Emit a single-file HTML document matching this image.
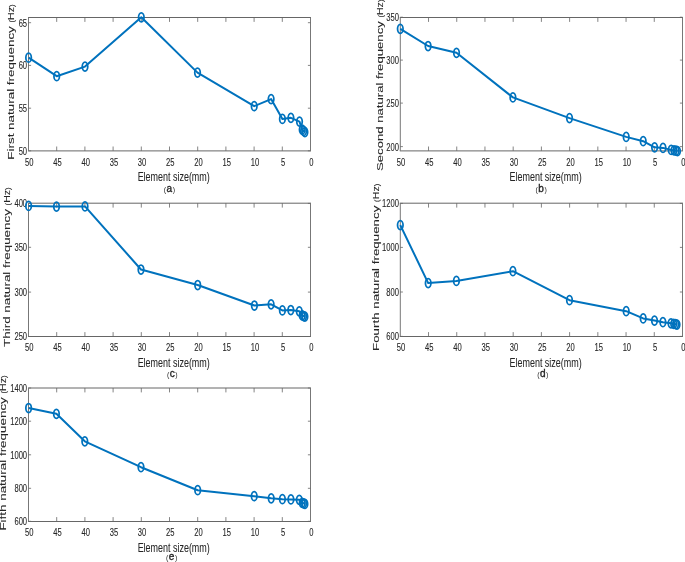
<!DOCTYPE html>
<html><head><meta charset="utf-8"><style>
html,body{margin:0;padding:0;background:#fff;}
body{width:685px;height:562px;overflow:hidden;}
svg{display:block;will-change:transform;}
text{font-family:"Liberation Sans",sans-serif;fill:#262626;}
.t{font-size:10.8px;stroke:#262626;stroke-width:0.1px;}
.xl{font-size:12.2px;stroke:#262626;stroke-width:0.06px;}
.yl{font-size:13.4px;stroke:#262626;stroke-width:0.1px;}
.cap{font-size:9px;letter-spacing:0.5px;}
.capl{stroke:#262626;stroke-width:0.35px;}
</style></head><body>
<svg width="685" height="562" viewBox="0 0 685 562">
<rect width="685" height="562" fill="#fff"/>
<line x1="28.0" y1="17.5" x2="311.0" y2="17.5" stroke="#666666" stroke-width="1"/>
<line x1="28.0" y1="150.9" x2="311.0" y2="150.9" stroke="#666666" stroke-width="1"/>
<line x1="28.5" y1="17.5" x2="28.5" y2="150.9" stroke="#777777" stroke-width="1"/>
<line x1="310.5" y1="17.5" x2="310.5" y2="150.9" stroke="#777777" stroke-width="1"/>
<text transform="translate(29.30,165.90) scale(0.705,1)" text-anchor="middle" class="t">50</text>
<line x1="56.70" y1="150.9" x2="56.70" y2="146.5" stroke="#666666" stroke-width="0.8"/>
<line x1="56.70" y1="17.5" x2="56.70" y2="21.9" stroke="#666666" stroke-width="0.8"/>
<text transform="translate(57.50,165.90) scale(0.705,1)" text-anchor="middle" class="t">45</text>
<line x1="84.90" y1="150.9" x2="84.90" y2="146.5" stroke="#666666" stroke-width="0.8"/>
<line x1="84.90" y1="17.5" x2="84.90" y2="21.9" stroke="#666666" stroke-width="0.8"/>
<text transform="translate(85.70,165.90) scale(0.705,1)" text-anchor="middle" class="t">40</text>
<line x1="113.10" y1="150.9" x2="113.10" y2="146.5" stroke="#666666" stroke-width="0.8"/>
<line x1="113.10" y1="17.5" x2="113.10" y2="21.9" stroke="#666666" stroke-width="0.8"/>
<text transform="translate(113.90,165.90) scale(0.705,1)" text-anchor="middle" class="t">35</text>
<line x1="141.30" y1="150.9" x2="141.30" y2="146.5" stroke="#666666" stroke-width="0.8"/>
<line x1="141.30" y1="17.5" x2="141.30" y2="21.9" stroke="#666666" stroke-width="0.8"/>
<text transform="translate(142.10,165.90) scale(0.705,1)" text-anchor="middle" class="t">30</text>
<line x1="169.50" y1="150.9" x2="169.50" y2="146.5" stroke="#666666" stroke-width="0.8"/>
<line x1="169.50" y1="17.5" x2="169.50" y2="21.9" stroke="#666666" stroke-width="0.8"/>
<text transform="translate(170.30,165.90) scale(0.705,1)" text-anchor="middle" class="t">25</text>
<line x1="197.70" y1="150.9" x2="197.70" y2="146.5" stroke="#666666" stroke-width="0.8"/>
<line x1="197.70" y1="17.5" x2="197.70" y2="21.9" stroke="#666666" stroke-width="0.8"/>
<text transform="translate(198.50,165.90) scale(0.705,1)" text-anchor="middle" class="t">20</text>
<line x1="225.90" y1="150.9" x2="225.90" y2="146.5" stroke="#666666" stroke-width="0.8"/>
<line x1="225.90" y1="17.5" x2="225.90" y2="21.9" stroke="#666666" stroke-width="0.8"/>
<text transform="translate(226.70,165.90) scale(0.705,1)" text-anchor="middle" class="t">15</text>
<line x1="254.10" y1="150.9" x2="254.10" y2="146.5" stroke="#666666" stroke-width="0.8"/>
<line x1="254.10" y1="17.5" x2="254.10" y2="21.9" stroke="#666666" stroke-width="0.8"/>
<text transform="translate(254.90,165.90) scale(0.705,1)" text-anchor="middle" class="t">10</text>
<line x1="282.30" y1="150.9" x2="282.30" y2="146.5" stroke="#666666" stroke-width="0.8"/>
<line x1="282.30" y1="17.5" x2="282.30" y2="21.9" stroke="#666666" stroke-width="0.8"/>
<text transform="translate(283.10,165.90) scale(0.705,1)" text-anchor="middle" class="t">5</text>
<text transform="translate(311.30,165.90) scale(0.705,1)" text-anchor="middle" class="t">0</text>
<line x1="28.5" y1="150.8" x2="31.1" y2="150.8" stroke="#666666" stroke-width="0.8"/>
<line x1="310.5" y1="150.8" x2="307.9" y2="150.8" stroke="#666666" stroke-width="0.8"/>
<text transform="translate(27.10,154.70) scale(0.705,1)" text-anchor="end" class="t">50</text>
<line x1="28.5" y1="108.2" x2="31.1" y2="108.2" stroke="#666666" stroke-width="0.8"/>
<line x1="310.5" y1="108.2" x2="307.9" y2="108.2" stroke="#666666" stroke-width="0.8"/>
<text transform="translate(27.10,112.10) scale(0.705,1)" text-anchor="end" class="t">55</text>
<line x1="28.5" y1="65.4" x2="31.1" y2="65.4" stroke="#666666" stroke-width="0.8"/>
<line x1="310.5" y1="65.4" x2="307.9" y2="65.4" stroke="#666666" stroke-width="0.8"/>
<text transform="translate(27.10,69.30) scale(0.705,1)" text-anchor="end" class="t">60</text>
<line x1="28.5" y1="22.7" x2="31.1" y2="22.7" stroke="#666666" stroke-width="0.8"/>
<line x1="310.5" y1="22.7" x2="307.9" y2="22.7" stroke="#666666" stroke-width="0.8"/>
<text transform="translate(27.10,26.60) scale(0.705,1)" text-anchor="end" class="t">65</text>
<polyline points="28.6,57.7 56.7,76.2 85,66.6 141.3,17.3 197.5,72.6 254.2,106.2 271.1,99.1 282.4,118.9 290.9,117.8 299.5,121.6 302.2,129.6 303.6,130.9 304.9,132.1" fill="none" stroke="#0072BD" stroke-width="2.0" stroke-linejoin="round"/>
<ellipse cx="28.6" cy="57.7" rx="2.75" ry="4.5" fill="none" stroke="#0072BD" stroke-width="1.75"/>
<ellipse cx="56.7" cy="76.2" rx="2.75" ry="4.5" fill="none" stroke="#0072BD" stroke-width="1.75"/>
<ellipse cx="85" cy="66.6" rx="2.75" ry="4.5" fill="none" stroke="#0072BD" stroke-width="1.75"/>
<ellipse cx="141.3" cy="17.3" rx="2.75" ry="4.5" fill="none" stroke="#0072BD" stroke-width="1.75"/>
<ellipse cx="197.5" cy="72.6" rx="2.75" ry="4.5" fill="none" stroke="#0072BD" stroke-width="1.75"/>
<ellipse cx="254.2" cy="106.2" rx="2.75" ry="4.5" fill="none" stroke="#0072BD" stroke-width="1.75"/>
<ellipse cx="271.1" cy="99.1" rx="2.75" ry="4.5" fill="none" stroke="#0072BD" stroke-width="1.75"/>
<ellipse cx="282.4" cy="118.9" rx="2.75" ry="4.5" fill="none" stroke="#0072BD" stroke-width="1.75"/>
<ellipse cx="290.9" cy="117.8" rx="2.75" ry="4.5" fill="none" stroke="#0072BD" stroke-width="1.75"/>
<ellipse cx="299.5" cy="121.6" rx="2.75" ry="4.5" fill="none" stroke="#0072BD" stroke-width="1.75"/>
<ellipse cx="302.2" cy="129.6" rx="2.75" ry="4.5" fill="none" stroke="#0072BD" stroke-width="1.75"/>
<ellipse cx="303.6" cy="130.9" rx="2.75" ry="4.5" fill="none" stroke="#0072BD" stroke-width="1.75"/>
<ellipse cx="304.9" cy="132.1" rx="2.75" ry="4.5" fill="none" stroke="#0072BD" stroke-width="1.75"/>
<text transform="translate(173.70,180.90) scale(0.735,1)" text-anchor="middle" class="xl">Element size(mm)</text>
<text transform="translate(169.60,191.80)" text-anchor="middle" class="cap"><tspan font-size="7">(</tspan><tspan font-size="10" class="capl">a</tspan><tspan font-size="7">)</tspan></text>
<text transform="translate(14.0,159.70) scale(0.725,1) rotate(-90)" textLength="133.50" lengthAdjust="spacingAndGlyphs" text-anchor="start" class="yl">First natural frequency</text>
<text transform="translate(14.0,22.55) scale(0.725,1) rotate(-90)" textLength="18.15" lengthAdjust="spacingAndGlyphs" text-anchor="start" class="yl"><tspan font-size="10">(</tspan>Hz<tspan font-size="10">)</tspan></text>
<line x1="399.8" y1="17.5" x2="683.0" y2="17.5" stroke="#666666" stroke-width="1"/>
<line x1="399.8" y1="150.9" x2="683.0" y2="150.9" stroke="#666666" stroke-width="1"/>
<line x1="400.3" y1="17.5" x2="400.3" y2="150.9" stroke="#777777" stroke-width="1"/>
<line x1="682.5" y1="17.5" x2="682.5" y2="150.9" stroke="#777777" stroke-width="1"/>
<text transform="translate(401.10,165.90) scale(0.705,1)" text-anchor="middle" class="t">50</text>
<line x1="428.52" y1="150.9" x2="428.52" y2="146.5" stroke="#666666" stroke-width="0.8"/>
<line x1="428.52" y1="17.5" x2="428.52" y2="21.9" stroke="#666666" stroke-width="0.8"/>
<text transform="translate(429.32,165.90) scale(0.705,1)" text-anchor="middle" class="t">45</text>
<line x1="456.74" y1="150.9" x2="456.74" y2="146.5" stroke="#666666" stroke-width="0.8"/>
<line x1="456.74" y1="17.5" x2="456.74" y2="21.9" stroke="#666666" stroke-width="0.8"/>
<text transform="translate(457.54,165.90) scale(0.705,1)" text-anchor="middle" class="t">40</text>
<line x1="484.96" y1="150.9" x2="484.96" y2="146.5" stroke="#666666" stroke-width="0.8"/>
<line x1="484.96" y1="17.5" x2="484.96" y2="21.9" stroke="#666666" stroke-width="0.8"/>
<text transform="translate(485.76,165.90) scale(0.705,1)" text-anchor="middle" class="t">35</text>
<line x1="513.18" y1="150.9" x2="513.18" y2="146.5" stroke="#666666" stroke-width="0.8"/>
<line x1="513.18" y1="17.5" x2="513.18" y2="21.9" stroke="#666666" stroke-width="0.8"/>
<text transform="translate(513.98,165.90) scale(0.705,1)" text-anchor="middle" class="t">30</text>
<line x1="541.40" y1="150.9" x2="541.40" y2="146.5" stroke="#666666" stroke-width="0.8"/>
<line x1="541.40" y1="17.5" x2="541.40" y2="21.9" stroke="#666666" stroke-width="0.8"/>
<text transform="translate(542.20,165.90) scale(0.705,1)" text-anchor="middle" class="t">25</text>
<line x1="569.62" y1="150.9" x2="569.62" y2="146.5" stroke="#666666" stroke-width="0.8"/>
<line x1="569.62" y1="17.5" x2="569.62" y2="21.9" stroke="#666666" stroke-width="0.8"/>
<text transform="translate(570.42,165.90) scale(0.705,1)" text-anchor="middle" class="t">20</text>
<line x1="597.84" y1="150.9" x2="597.84" y2="146.5" stroke="#666666" stroke-width="0.8"/>
<line x1="597.84" y1="17.5" x2="597.84" y2="21.9" stroke="#666666" stroke-width="0.8"/>
<text transform="translate(598.64,165.90) scale(0.705,1)" text-anchor="middle" class="t">15</text>
<line x1="626.06" y1="150.9" x2="626.06" y2="146.5" stroke="#666666" stroke-width="0.8"/>
<line x1="626.06" y1="17.5" x2="626.06" y2="21.9" stroke="#666666" stroke-width="0.8"/>
<text transform="translate(626.86,165.90) scale(0.705,1)" text-anchor="middle" class="t">10</text>
<line x1="654.28" y1="150.9" x2="654.28" y2="146.5" stroke="#666666" stroke-width="0.8"/>
<line x1="654.28" y1="17.5" x2="654.28" y2="21.9" stroke="#666666" stroke-width="0.8"/>
<text transform="translate(655.08,165.90) scale(0.705,1)" text-anchor="middle" class="t">5</text>
<text transform="translate(683.30,165.90) scale(0.705,1)" text-anchor="middle" class="t">0</text>
<line x1="400.3" y1="146.6" x2="402.90000000000003" y2="146.6" stroke="#666666" stroke-width="0.8"/>
<line x1="682.5" y1="146.6" x2="679.9" y2="146.6" stroke="#666666" stroke-width="0.8"/>
<text transform="translate(398.90,150.50) scale(0.705,1)" text-anchor="end" class="t">200</text>
<line x1="400.3" y1="103.1" x2="402.90000000000003" y2="103.1" stroke="#666666" stroke-width="0.8"/>
<line x1="682.5" y1="103.1" x2="679.9" y2="103.1" stroke="#666666" stroke-width="0.8"/>
<text transform="translate(398.90,107.00) scale(0.705,1)" text-anchor="end" class="t">250</text>
<line x1="400.3" y1="60.1" x2="402.90000000000003" y2="60.1" stroke="#666666" stroke-width="0.8"/>
<line x1="682.5" y1="60.1" x2="679.9" y2="60.1" stroke="#666666" stroke-width="0.8"/>
<text transform="translate(398.90,64.00) scale(0.705,1)" text-anchor="end" class="t">300</text>
<line x1="400.3" y1="17.2" x2="402.90000000000003" y2="17.2" stroke="#666666" stroke-width="0.8"/>
<line x1="682.5" y1="17.2" x2="679.9" y2="17.2" stroke="#666666" stroke-width="0.8"/>
<text transform="translate(398.90,21.10) scale(0.705,1)" text-anchor="end" class="t">350</text>
<polyline points="400.3,28.8 428.1,46 456.5,52.8 512.9,97.4 569.5,118.1 626.2,136.9 643.2,141.2 654.6,147.3 663,147.9 671.2,149.9 674.0,150.3 676.0,150.7 677.5,151.1" fill="none" stroke="#0072BD" stroke-width="2.0" stroke-linejoin="round"/>
<ellipse cx="400.3" cy="28.8" rx="2.75" ry="4.5" fill="none" stroke="#0072BD" stroke-width="1.75"/>
<ellipse cx="428.1" cy="46" rx="2.75" ry="4.5" fill="none" stroke="#0072BD" stroke-width="1.75"/>
<ellipse cx="456.5" cy="52.8" rx="2.75" ry="4.5" fill="none" stroke="#0072BD" stroke-width="1.75"/>
<ellipse cx="512.9" cy="97.4" rx="2.75" ry="4.5" fill="none" stroke="#0072BD" stroke-width="1.75"/>
<ellipse cx="569.5" cy="118.1" rx="2.75" ry="4.5" fill="none" stroke="#0072BD" stroke-width="1.75"/>
<ellipse cx="626.2" cy="136.9" rx="2.75" ry="4.5" fill="none" stroke="#0072BD" stroke-width="1.75"/>
<ellipse cx="643.2" cy="141.2" rx="2.75" ry="4.5" fill="none" stroke="#0072BD" stroke-width="1.75"/>
<ellipse cx="654.6" cy="147.3" rx="2.75" ry="4.5" fill="none" stroke="#0072BD" stroke-width="1.75"/>
<ellipse cx="663" cy="147.9" rx="2.75" ry="4.5" fill="none" stroke="#0072BD" stroke-width="1.75"/>
<ellipse cx="671.2" cy="149.9" rx="2.75" ry="4.5" fill="none" stroke="#0072BD" stroke-width="1.75"/>
<ellipse cx="674.0" cy="150.3" rx="2.75" ry="4.5" fill="none" stroke="#0072BD" stroke-width="1.75"/>
<ellipse cx="676.0" cy="150.7" rx="2.75" ry="4.5" fill="none" stroke="#0072BD" stroke-width="1.75"/>
<ellipse cx="677.5" cy="151.1" rx="2.75" ry="4.5" fill="none" stroke="#0072BD" stroke-width="1.75"/>
<text transform="translate(545.60,180.90) scale(0.735,1)" text-anchor="middle" class="xl">Element size(mm)</text>
<text transform="translate(541.40,192.30)" text-anchor="middle" class="cap"><tspan font-size="7">(</tspan><tspan font-size="10" class="capl">b</tspan><tspan font-size="7">)</tspan></text>
<text transform="translate(383.2,171.00) scale(0.725,1) rotate(-90)" textLength="149.80" lengthAdjust="spacingAndGlyphs" text-anchor="start" class="yl">Second natural frequency</text>
<text transform="translate(383.2,17.55) scale(0.725,1) rotate(-90)" textLength="18.05" lengthAdjust="spacingAndGlyphs" text-anchor="start" class="yl"><tspan font-size="10">(</tspan>Hz<tspan font-size="10">)</tspan></text>
<line x1="28.0" y1="203.2" x2="311.0" y2="203.2" stroke="#666666" stroke-width="1"/>
<line x1="28.0" y1="336.5" x2="311.0" y2="336.5" stroke="#666666" stroke-width="1"/>
<line x1="28.5" y1="203.2" x2="28.5" y2="336.5" stroke="#777777" stroke-width="1"/>
<line x1="310.5" y1="203.2" x2="310.5" y2="336.5" stroke="#777777" stroke-width="1"/>
<text transform="translate(29.30,351.10) scale(0.705,1)" text-anchor="middle" class="t">50</text>
<line x1="56.70" y1="336.5" x2="56.70" y2="332.1" stroke="#666666" stroke-width="0.8"/>
<line x1="56.70" y1="203.2" x2="56.70" y2="207.6" stroke="#666666" stroke-width="0.8"/>
<text transform="translate(57.50,351.10) scale(0.705,1)" text-anchor="middle" class="t">45</text>
<line x1="84.90" y1="336.5" x2="84.90" y2="332.1" stroke="#666666" stroke-width="0.8"/>
<line x1="84.90" y1="203.2" x2="84.90" y2="207.6" stroke="#666666" stroke-width="0.8"/>
<text transform="translate(85.70,351.10) scale(0.705,1)" text-anchor="middle" class="t">40</text>
<line x1="113.10" y1="336.5" x2="113.10" y2="332.1" stroke="#666666" stroke-width="0.8"/>
<line x1="113.10" y1="203.2" x2="113.10" y2="207.6" stroke="#666666" stroke-width="0.8"/>
<text transform="translate(113.90,351.10) scale(0.705,1)" text-anchor="middle" class="t">35</text>
<line x1="141.30" y1="336.5" x2="141.30" y2="332.1" stroke="#666666" stroke-width="0.8"/>
<line x1="141.30" y1="203.2" x2="141.30" y2="207.6" stroke="#666666" stroke-width="0.8"/>
<text transform="translate(142.10,351.10) scale(0.705,1)" text-anchor="middle" class="t">30</text>
<line x1="169.50" y1="336.5" x2="169.50" y2="332.1" stroke="#666666" stroke-width="0.8"/>
<line x1="169.50" y1="203.2" x2="169.50" y2="207.6" stroke="#666666" stroke-width="0.8"/>
<text transform="translate(170.30,351.10) scale(0.705,1)" text-anchor="middle" class="t">25</text>
<line x1="197.70" y1="336.5" x2="197.70" y2="332.1" stroke="#666666" stroke-width="0.8"/>
<line x1="197.70" y1="203.2" x2="197.70" y2="207.6" stroke="#666666" stroke-width="0.8"/>
<text transform="translate(198.50,351.10) scale(0.705,1)" text-anchor="middle" class="t">20</text>
<line x1="225.90" y1="336.5" x2="225.90" y2="332.1" stroke="#666666" stroke-width="0.8"/>
<line x1="225.90" y1="203.2" x2="225.90" y2="207.6" stroke="#666666" stroke-width="0.8"/>
<text transform="translate(226.70,351.10) scale(0.705,1)" text-anchor="middle" class="t">15</text>
<line x1="254.10" y1="336.5" x2="254.10" y2="332.1" stroke="#666666" stroke-width="0.8"/>
<line x1="254.10" y1="203.2" x2="254.10" y2="207.6" stroke="#666666" stroke-width="0.8"/>
<text transform="translate(254.90,351.10) scale(0.705,1)" text-anchor="middle" class="t">10</text>
<line x1="282.30" y1="336.5" x2="282.30" y2="332.1" stroke="#666666" stroke-width="0.8"/>
<line x1="282.30" y1="203.2" x2="282.30" y2="207.6" stroke="#666666" stroke-width="0.8"/>
<text transform="translate(283.10,351.10) scale(0.705,1)" text-anchor="middle" class="t">5</text>
<text transform="translate(311.30,351.10) scale(0.705,1)" text-anchor="middle" class="t">0</text>
<line x1="28.5" y1="336.5" x2="31.1" y2="336.5" stroke="#666666" stroke-width="0.8"/>
<line x1="310.5" y1="336.5" x2="307.9" y2="336.5" stroke="#666666" stroke-width="0.8"/>
<text transform="translate(27.10,340.40) scale(0.705,1)" text-anchor="end" class="t">250</text>
<line x1="28.5" y1="292.1" x2="31.1" y2="292.1" stroke="#666666" stroke-width="0.8"/>
<line x1="310.5" y1="292.1" x2="307.9" y2="292.1" stroke="#666666" stroke-width="0.8"/>
<text transform="translate(27.10,296.00) scale(0.705,1)" text-anchor="end" class="t">300</text>
<line x1="28.5" y1="247.3" x2="31.1" y2="247.3" stroke="#666666" stroke-width="0.8"/>
<line x1="310.5" y1="247.3" x2="307.9" y2="247.3" stroke="#666666" stroke-width="0.8"/>
<text transform="translate(27.10,251.20) scale(0.705,1)" text-anchor="end" class="t">350</text>
<line x1="28.5" y1="203.4" x2="31.1" y2="203.4" stroke="#666666" stroke-width="0.8"/>
<line x1="310.5" y1="203.4" x2="307.9" y2="203.4" stroke="#666666" stroke-width="0.8"/>
<text transform="translate(27.10,207.30) scale(0.705,1)" text-anchor="end" class="t">400</text>
<polyline points="28.6,205.9 56.5,206.6 85,206.4 141,269.5 197.7,285 254.4,305.5 271.1,304.3 282.4,310.4 290.8,310 299.3,311.3 302.2,315.4 303.6,316.0 304.9,316.6" fill="none" stroke="#0072BD" stroke-width="2.0" stroke-linejoin="round"/>
<ellipse cx="28.6" cy="205.9" rx="2.75" ry="4.5" fill="none" stroke="#0072BD" stroke-width="1.75"/>
<ellipse cx="56.5" cy="206.6" rx="2.75" ry="4.5" fill="none" stroke="#0072BD" stroke-width="1.75"/>
<ellipse cx="85" cy="206.4" rx="2.75" ry="4.5" fill="none" stroke="#0072BD" stroke-width="1.75"/>
<ellipse cx="141" cy="269.5" rx="2.75" ry="4.5" fill="none" stroke="#0072BD" stroke-width="1.75"/>
<ellipse cx="197.7" cy="285" rx="2.75" ry="4.5" fill="none" stroke="#0072BD" stroke-width="1.75"/>
<ellipse cx="254.4" cy="305.5" rx="2.75" ry="4.5" fill="none" stroke="#0072BD" stroke-width="1.75"/>
<ellipse cx="271.1" cy="304.3" rx="2.75" ry="4.5" fill="none" stroke="#0072BD" stroke-width="1.75"/>
<ellipse cx="282.4" cy="310.4" rx="2.75" ry="4.5" fill="none" stroke="#0072BD" stroke-width="1.75"/>
<ellipse cx="290.8" cy="310" rx="2.75" ry="4.5" fill="none" stroke="#0072BD" stroke-width="1.75"/>
<ellipse cx="299.3" cy="311.3" rx="2.75" ry="4.5" fill="none" stroke="#0072BD" stroke-width="1.75"/>
<ellipse cx="302.2" cy="315.4" rx="2.75" ry="4.5" fill="none" stroke="#0072BD" stroke-width="1.75"/>
<ellipse cx="303.6" cy="316.0" rx="2.75" ry="4.5" fill="none" stroke="#0072BD" stroke-width="1.75"/>
<ellipse cx="304.9" cy="316.6" rx="2.75" ry="4.5" fill="none" stroke="#0072BD" stroke-width="1.75"/>
<text transform="translate(173.70,366.50) scale(0.735,1)" text-anchor="middle" class="xl">Element size(mm)</text>
<text transform="translate(172.50,376.50)" text-anchor="middle" class="cap"><tspan font-size="7">(</tspan><tspan font-size="10" class="capl">c</tspan><tspan font-size="7">)</tspan></text>
<text transform="translate(9.8,346.90) scale(0.725,1) rotate(-90)" textLength="137.80" lengthAdjust="spacingAndGlyphs" text-anchor="start" class="yl">Third natural frequency</text>
<text transform="translate(9.8,205.45) scale(0.725,1) rotate(-90)" textLength="18.05" lengthAdjust="spacingAndGlyphs" text-anchor="start" class="yl"><tspan font-size="10">(</tspan>Hz<tspan font-size="10">)</tspan></text>
<line x1="399.8" y1="203.2" x2="683.0" y2="203.2" stroke="#666666" stroke-width="1"/>
<line x1="399.8" y1="336.5" x2="683.0" y2="336.5" stroke="#666666" stroke-width="1"/>
<line x1="400.3" y1="203.2" x2="400.3" y2="336.5" stroke="#777777" stroke-width="1"/>
<line x1="682.5" y1="203.2" x2="682.5" y2="336.5" stroke="#777777" stroke-width="1"/>
<text transform="translate(401.10,351.10) scale(0.705,1)" text-anchor="middle" class="t">50</text>
<line x1="428.52" y1="336.5" x2="428.52" y2="332.1" stroke="#666666" stroke-width="0.8"/>
<line x1="428.52" y1="203.2" x2="428.52" y2="207.6" stroke="#666666" stroke-width="0.8"/>
<text transform="translate(429.32,351.10) scale(0.705,1)" text-anchor="middle" class="t">45</text>
<line x1="456.74" y1="336.5" x2="456.74" y2="332.1" stroke="#666666" stroke-width="0.8"/>
<line x1="456.74" y1="203.2" x2="456.74" y2="207.6" stroke="#666666" stroke-width="0.8"/>
<text transform="translate(457.54,351.10) scale(0.705,1)" text-anchor="middle" class="t">40</text>
<line x1="484.96" y1="336.5" x2="484.96" y2="332.1" stroke="#666666" stroke-width="0.8"/>
<line x1="484.96" y1="203.2" x2="484.96" y2="207.6" stroke="#666666" stroke-width="0.8"/>
<text transform="translate(485.76,351.10) scale(0.705,1)" text-anchor="middle" class="t">35</text>
<line x1="513.18" y1="336.5" x2="513.18" y2="332.1" stroke="#666666" stroke-width="0.8"/>
<line x1="513.18" y1="203.2" x2="513.18" y2="207.6" stroke="#666666" stroke-width="0.8"/>
<text transform="translate(513.98,351.10) scale(0.705,1)" text-anchor="middle" class="t">30</text>
<line x1="541.40" y1="336.5" x2="541.40" y2="332.1" stroke="#666666" stroke-width="0.8"/>
<line x1="541.40" y1="203.2" x2="541.40" y2="207.6" stroke="#666666" stroke-width="0.8"/>
<text transform="translate(542.20,351.10) scale(0.705,1)" text-anchor="middle" class="t">25</text>
<line x1="569.62" y1="336.5" x2="569.62" y2="332.1" stroke="#666666" stroke-width="0.8"/>
<line x1="569.62" y1="203.2" x2="569.62" y2="207.6" stroke="#666666" stroke-width="0.8"/>
<text transform="translate(570.42,351.10) scale(0.705,1)" text-anchor="middle" class="t">20</text>
<line x1="597.84" y1="336.5" x2="597.84" y2="332.1" stroke="#666666" stroke-width="0.8"/>
<line x1="597.84" y1="203.2" x2="597.84" y2="207.6" stroke="#666666" stroke-width="0.8"/>
<text transform="translate(598.64,351.10) scale(0.705,1)" text-anchor="middle" class="t">15</text>
<line x1="626.06" y1="336.5" x2="626.06" y2="332.1" stroke="#666666" stroke-width="0.8"/>
<line x1="626.06" y1="203.2" x2="626.06" y2="207.6" stroke="#666666" stroke-width="0.8"/>
<text transform="translate(626.86,351.10) scale(0.705,1)" text-anchor="middle" class="t">10</text>
<line x1="654.28" y1="336.5" x2="654.28" y2="332.1" stroke="#666666" stroke-width="0.8"/>
<line x1="654.28" y1="203.2" x2="654.28" y2="207.6" stroke="#666666" stroke-width="0.8"/>
<text transform="translate(655.08,351.10) scale(0.705,1)" text-anchor="middle" class="t">5</text>
<text transform="translate(683.30,351.10) scale(0.705,1)" text-anchor="middle" class="t">0</text>
<line x1="400.3" y1="336.4" x2="402.90000000000003" y2="336.4" stroke="#666666" stroke-width="0.8"/>
<line x1="682.5" y1="336.4" x2="679.9" y2="336.4" stroke="#666666" stroke-width="0.8"/>
<text transform="translate(398.90,340.30) scale(0.705,1)" text-anchor="end" class="t">600</text>
<line x1="400.3" y1="292.0" x2="402.90000000000003" y2="292.0" stroke="#666666" stroke-width="0.8"/>
<line x1="682.5" y1="292.0" x2="679.9" y2="292.0" stroke="#666666" stroke-width="0.8"/>
<text transform="translate(398.90,295.90) scale(0.705,1)" text-anchor="end" class="t">800</text>
<line x1="400.3" y1="247.4" x2="402.90000000000003" y2="247.4" stroke="#666666" stroke-width="0.8"/>
<line x1="682.5" y1="247.4" x2="679.9" y2="247.4" stroke="#666666" stroke-width="0.8"/>
<text transform="translate(398.90,251.30) scale(0.705,1)" text-anchor="end" class="t">1000</text>
<line x1="400.3" y1="203.4" x2="402.90000000000003" y2="203.4" stroke="#666666" stroke-width="0.8"/>
<line x1="682.5" y1="203.4" x2="679.9" y2="203.4" stroke="#666666" stroke-width="0.8"/>
<text transform="translate(398.90,207.30) scale(0.705,1)" text-anchor="end" class="t">1200</text>
<polyline points="400.3,225.1 428.2,283.1 456.4,280.9 512.9,271.2 569.5,300.2 626.2,311.2 643.2,318.4 654.5,320.6 662.9,322.2 671.0,323.3 673.7,323.8 675.6,324.2 677.0,324.6" fill="none" stroke="#0072BD" stroke-width="2.0" stroke-linejoin="round"/>
<ellipse cx="400.3" cy="225.1" rx="2.75" ry="4.5" fill="none" stroke="#0072BD" stroke-width="1.75"/>
<ellipse cx="428.2" cy="283.1" rx="2.75" ry="4.5" fill="none" stroke="#0072BD" stroke-width="1.75"/>
<ellipse cx="456.4" cy="280.9" rx="2.75" ry="4.5" fill="none" stroke="#0072BD" stroke-width="1.75"/>
<ellipse cx="512.9" cy="271.2" rx="2.75" ry="4.5" fill="none" stroke="#0072BD" stroke-width="1.75"/>
<ellipse cx="569.5" cy="300.2" rx="2.75" ry="4.5" fill="none" stroke="#0072BD" stroke-width="1.75"/>
<ellipse cx="626.2" cy="311.2" rx="2.75" ry="4.5" fill="none" stroke="#0072BD" stroke-width="1.75"/>
<ellipse cx="643.2" cy="318.4" rx="2.75" ry="4.5" fill="none" stroke="#0072BD" stroke-width="1.75"/>
<ellipse cx="654.5" cy="320.6" rx="2.75" ry="4.5" fill="none" stroke="#0072BD" stroke-width="1.75"/>
<ellipse cx="662.9" cy="322.2" rx="2.75" ry="4.5" fill="none" stroke="#0072BD" stroke-width="1.75"/>
<ellipse cx="671.0" cy="323.3" rx="2.75" ry="4.5" fill="none" stroke="#0072BD" stroke-width="1.75"/>
<ellipse cx="673.7" cy="323.8" rx="2.75" ry="4.5" fill="none" stroke="#0072BD" stroke-width="1.75"/>
<ellipse cx="675.6" cy="324.2" rx="2.75" ry="4.5" fill="none" stroke="#0072BD" stroke-width="1.75"/>
<ellipse cx="677.0" cy="324.6" rx="2.75" ry="4.5" fill="none" stroke="#0072BD" stroke-width="1.75"/>
<text transform="translate(545.60,366.50) scale(0.735,1)" text-anchor="middle" class="xl">Element size(mm)</text>
<text transform="translate(543.00,376.80)" text-anchor="middle" class="cap"><tspan font-size="7">(</tspan><tspan font-size="10" class="capl">d</tspan><tspan font-size="7">)</tspan></text>
<text transform="translate(379.2,351.00) scale(0.725,1) rotate(-90)" textLength="145.40" lengthAdjust="spacingAndGlyphs" text-anchor="start" class="yl">Fourth natural frequency</text>
<text transform="translate(379.2,201.95) scale(0.725,1) rotate(-90)" textLength="18.35" lengthAdjust="spacingAndGlyphs" text-anchor="start" class="yl"><tspan font-size="10">(</tspan>Hz<tspan font-size="10">)</tspan></text>
<line x1="28.0" y1="388.0" x2="311.0" y2="388.0" stroke="#666666" stroke-width="1"/>
<line x1="28.0" y1="521.5" x2="311.0" y2="521.5" stroke="#666666" stroke-width="1"/>
<line x1="28.5" y1="388.0" x2="28.5" y2="521.5" stroke="#777777" stroke-width="1"/>
<line x1="310.5" y1="388.0" x2="310.5" y2="521.5" stroke="#777777" stroke-width="1"/>
<text transform="translate(29.30,536.00) scale(0.705,1)" text-anchor="middle" class="t">50</text>
<line x1="56.70" y1="521.5" x2="56.70" y2="517.1" stroke="#666666" stroke-width="0.8"/>
<line x1="56.70" y1="388.0" x2="56.70" y2="392.4" stroke="#666666" stroke-width="0.8"/>
<text transform="translate(57.50,536.00) scale(0.705,1)" text-anchor="middle" class="t">45</text>
<line x1="84.90" y1="521.5" x2="84.90" y2="517.1" stroke="#666666" stroke-width="0.8"/>
<line x1="84.90" y1="388.0" x2="84.90" y2="392.4" stroke="#666666" stroke-width="0.8"/>
<text transform="translate(85.70,536.00) scale(0.705,1)" text-anchor="middle" class="t">40</text>
<line x1="113.10" y1="521.5" x2="113.10" y2="517.1" stroke="#666666" stroke-width="0.8"/>
<line x1="113.10" y1="388.0" x2="113.10" y2="392.4" stroke="#666666" stroke-width="0.8"/>
<text transform="translate(113.90,536.00) scale(0.705,1)" text-anchor="middle" class="t">35</text>
<line x1="141.30" y1="521.5" x2="141.30" y2="517.1" stroke="#666666" stroke-width="0.8"/>
<line x1="141.30" y1="388.0" x2="141.30" y2="392.4" stroke="#666666" stroke-width="0.8"/>
<text transform="translate(142.10,536.00) scale(0.705,1)" text-anchor="middle" class="t">30</text>
<line x1="169.50" y1="521.5" x2="169.50" y2="517.1" stroke="#666666" stroke-width="0.8"/>
<line x1="169.50" y1="388.0" x2="169.50" y2="392.4" stroke="#666666" stroke-width="0.8"/>
<text transform="translate(170.30,536.00) scale(0.705,1)" text-anchor="middle" class="t">25</text>
<line x1="197.70" y1="521.5" x2="197.70" y2="517.1" stroke="#666666" stroke-width="0.8"/>
<line x1="197.70" y1="388.0" x2="197.70" y2="392.4" stroke="#666666" stroke-width="0.8"/>
<text transform="translate(198.50,536.00) scale(0.705,1)" text-anchor="middle" class="t">20</text>
<line x1="225.90" y1="521.5" x2="225.90" y2="517.1" stroke="#666666" stroke-width="0.8"/>
<line x1="225.90" y1="388.0" x2="225.90" y2="392.4" stroke="#666666" stroke-width="0.8"/>
<text transform="translate(226.70,536.00) scale(0.705,1)" text-anchor="middle" class="t">15</text>
<line x1="254.10" y1="521.5" x2="254.10" y2="517.1" stroke="#666666" stroke-width="0.8"/>
<line x1="254.10" y1="388.0" x2="254.10" y2="392.4" stroke="#666666" stroke-width="0.8"/>
<text transform="translate(254.90,536.00) scale(0.705,1)" text-anchor="middle" class="t">10</text>
<line x1="282.30" y1="521.5" x2="282.30" y2="517.1" stroke="#666666" stroke-width="0.8"/>
<line x1="282.30" y1="388.0" x2="282.30" y2="392.4" stroke="#666666" stroke-width="0.8"/>
<text transform="translate(283.10,536.00) scale(0.705,1)" text-anchor="middle" class="t">5</text>
<text transform="translate(311.30,536.00) scale(0.705,1)" text-anchor="middle" class="t">0</text>
<line x1="28.5" y1="521.3" x2="31.1" y2="521.3" stroke="#666666" stroke-width="0.8"/>
<line x1="310.5" y1="521.3" x2="307.9" y2="521.3" stroke="#666666" stroke-width="0.8"/>
<text transform="translate(27.10,525.20) scale(0.705,1)" text-anchor="end" class="t">600</text>
<line x1="28.5" y1="488.3" x2="31.1" y2="488.3" stroke="#666666" stroke-width="0.8"/>
<line x1="310.5" y1="488.3" x2="307.9" y2="488.3" stroke="#666666" stroke-width="0.8"/>
<text transform="translate(27.10,492.20) scale(0.705,1)" text-anchor="end" class="t">800</text>
<line x1="28.5" y1="454.8" x2="31.1" y2="454.8" stroke="#666666" stroke-width="0.8"/>
<line x1="310.5" y1="454.8" x2="307.9" y2="454.8" stroke="#666666" stroke-width="0.8"/>
<text transform="translate(27.10,458.70) scale(0.705,1)" text-anchor="end" class="t">1000</text>
<line x1="28.5" y1="421.2" x2="31.1" y2="421.2" stroke="#666666" stroke-width="0.8"/>
<line x1="310.5" y1="421.2" x2="307.9" y2="421.2" stroke="#666666" stroke-width="0.8"/>
<text transform="translate(27.10,425.10) scale(0.705,1)" text-anchor="end" class="t">1200</text>
<line x1="28.5" y1="388.0" x2="31.1" y2="388.0" stroke="#666666" stroke-width="0.8"/>
<line x1="310.5" y1="388.0" x2="307.9" y2="388.0" stroke="#666666" stroke-width="0.8"/>
<text transform="translate(27.10,391.90) scale(0.705,1)" text-anchor="end" class="t">1400</text>
<polyline points="28.6,408 56.4,413.8 84.8,441.3 141,467.2 197.7,490.2 254.2,496.2 271.2,498.3 282.4,499.2 290.9,499.4 299.3,499.8 302.2,502.8 303.6,503.3 304.9,503.9" fill="none" stroke="#0072BD" stroke-width="2.0" stroke-linejoin="round"/>
<ellipse cx="28.6" cy="408" rx="2.75" ry="4.5" fill="none" stroke="#0072BD" stroke-width="1.75"/>
<ellipse cx="56.4" cy="413.8" rx="2.75" ry="4.5" fill="none" stroke="#0072BD" stroke-width="1.75"/>
<ellipse cx="84.8" cy="441.3" rx="2.75" ry="4.5" fill="none" stroke="#0072BD" stroke-width="1.75"/>
<ellipse cx="141" cy="467.2" rx="2.75" ry="4.5" fill="none" stroke="#0072BD" stroke-width="1.75"/>
<ellipse cx="197.7" cy="490.2" rx="2.75" ry="4.5" fill="none" stroke="#0072BD" stroke-width="1.75"/>
<ellipse cx="254.2" cy="496.2" rx="2.75" ry="4.5" fill="none" stroke="#0072BD" stroke-width="1.75"/>
<ellipse cx="271.2" cy="498.3" rx="2.75" ry="4.5" fill="none" stroke="#0072BD" stroke-width="1.75"/>
<ellipse cx="282.4" cy="499.2" rx="2.75" ry="4.5" fill="none" stroke="#0072BD" stroke-width="1.75"/>
<ellipse cx="290.9" cy="499.4" rx="2.75" ry="4.5" fill="none" stroke="#0072BD" stroke-width="1.75"/>
<ellipse cx="299.3" cy="499.8" rx="2.75" ry="4.5" fill="none" stroke="#0072BD" stroke-width="1.75"/>
<ellipse cx="302.2" cy="502.8" rx="2.75" ry="4.5" fill="none" stroke="#0072BD" stroke-width="1.75"/>
<ellipse cx="303.6" cy="503.3" rx="2.75" ry="4.5" fill="none" stroke="#0072BD" stroke-width="1.75"/>
<ellipse cx="304.9" cy="503.9" rx="2.75" ry="4.5" fill="none" stroke="#0072BD" stroke-width="1.75"/>
<text transform="translate(173.70,551.50) scale(0.735,1)" text-anchor="middle" class="xl">Element size(mm)</text>
<text transform="translate(171.90,560.40)" text-anchor="middle" class="cap"><tspan font-size="7">(</tspan><tspan font-size="10" class="capl">e</tspan><tspan font-size="7">)</tspan></text>
<text transform="translate(5.9,530.60) scale(0.725,1) rotate(-90)" textLength="133.40" lengthAdjust="spacingAndGlyphs" text-anchor="start" class="yl">Fifth natural frequency</text>
<text transform="translate(5.9,393.55) scale(0.725,1) rotate(-90)" textLength="18.15" lengthAdjust="spacingAndGlyphs" text-anchor="start" class="yl"><tspan font-size="10">(</tspan>Hz<tspan font-size="10">)</tspan></text>
</svg>
</body></html>
